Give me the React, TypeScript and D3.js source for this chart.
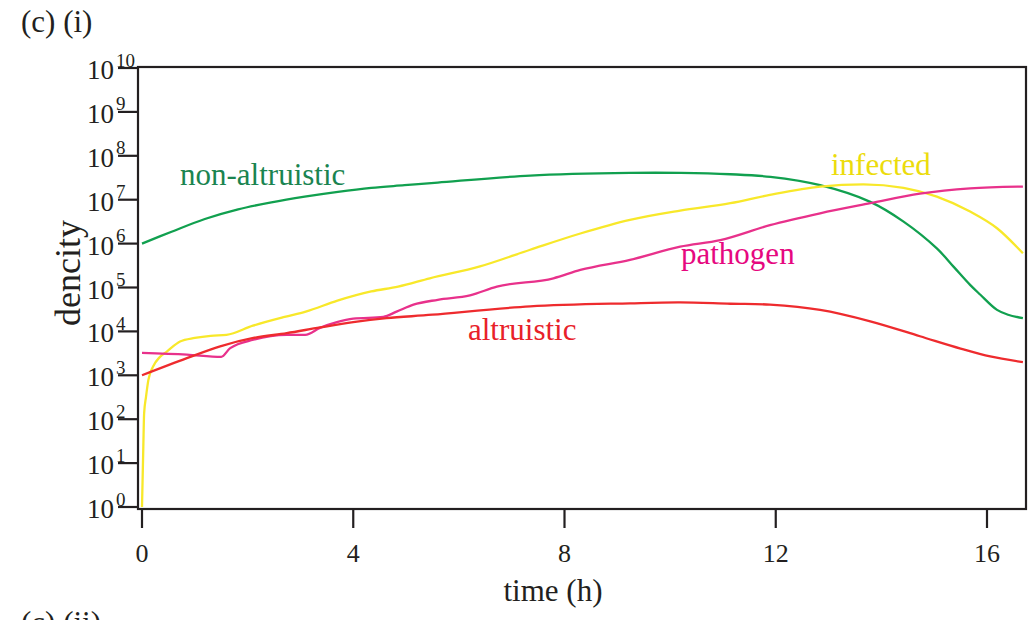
import React, { useEffect, useRef } from 'react';
import * as d3 from 'd3';

// time (h) and log10(density)
const nonAltruistic: [number, number][] = [
  [0, 6.0], [0.56, 6.27], [1.19, 6.56], [1.82, 6.78], [2.45, 6.94], [3.08, 7.07],
  [3.71, 7.18], [4.34, 7.27], [4.97, 7.33], [5.6, 7.39], [7.35, 7.55], [9.24, 7.61],
  [10.2, 7.61], [11.14, 7.58], [11.9, 7.52], [12.84, 7.33], [13.79, 6.95], [14.42, 6.5],
  [15.05, 5.89], [15.37, 5.47], [15.68, 5.06], [15.87, 4.84], [16.19, 4.49],
  [16.4, 4.38], [16.68, 4.3],
];

const infected: [number, number][] = [
  [0, 0], [0.025, 1.37], [0.04, 2.13], [0.076, 2.51], [0.12, 2.89], [0.21, 3.2],
  [0.34, 3.42], [0.47, 3.54], [0.72, 3.77], [1.0, 3.85], [1.3, 3.9], [1.6, 3.92],
  [2.1, 4.13], [2.7, 4.33], [3.1, 4.45], [3.7, 4.7], [4.34, 4.91], [4.85, 5.02],
  [5.45, 5.21], [6.4, 5.48], [7.35, 5.86], [8.3, 6.23], [9.24, 6.54], [10.19, 6.75],
  [11.14, 6.92], [11.89, 7.11], [12.84, 7.3], [13.66, 7.35], [14.42, 7.27],
  [15.05, 7.07], [15.68, 6.73], [16.19, 6.35], [16.68, 5.78],
];

const pathogen: [number, number][] = [
  [0, 3.51], [0.85, 3.47], [1.5, 3.42], [1.67, 3.62], [2.11, 3.81], [2.74, 3.92],
  [3.09, 3.92], [3.37, 4.08], [3.69, 4.21], [4.0, 4.29], [4.57, 4.33], [4.82, 4.45],
  [5.14, 4.61], [5.6, 4.72], [6.21, 4.82], [6.72, 5.02], [7.79, 5.21], [8.3, 5.4],
  [9.24, 5.63], [10.19, 5.93], [10.95, 6.08], [11.89, 6.42], [12.84, 6.69],
  [13.79, 6.92], [14.73, 7.14], [15.68, 7.26], [16.68, 7.3],
];

const altruistic: [number, number][] = [
  [0, 3.0], [0.85, 3.39], [1.48, 3.66], [2.11, 3.85], [2.74, 3.96], [3.37, 4.09],
  [4.0, 4.21], [4.63, 4.3], [5.5, 4.38], [7.35, 4.57], [9.24, 4.64], [10.19, 4.66],
  [11.14, 4.63], [11.89, 4.61], [12.84, 4.49], [13.79, 4.23], [14.73, 3.89],
  [15.5, 3.61], [16.06, 3.43], [16.68, 3.3],
];

const xTicks = [0, 4, 8, 12, 16];
const yExponents = [0, 1, 2, 3, 4, 5, 6, 7, 8, 9, 10];

const series = [
  { name: 'non-altruistic', data: nonAltruistic, color: '#11a04f', labelColor: '#1a8450', lx: 180, ly: 185, smooth: true },
  { name: 'infected', data: infected, color: '#f8e82a', labelColor: '#ecdc0c', lx: 831, ly: 175, smooth: false },
  { name: 'pathogen', data: pathogen, color: '#e8318b', labelColor: '#e6087f', lx: 681, ly: 264, smooth: false },
  { name: 'altruistic', data: altruistic, color: '#ee2b2e', labelColor: '#e82129', lx: 468, ly: 340, smooth: true },
];

const FONT = '"Liberation Serif", "Times New Roman", serif';
const INK = '#231f20';

export default function App() {
  const svgRef = useRef<SVGSVGElement>(null);

  useEffect(() => {
    const svg = d3.select(svgRef.current);
    svg.selectAll('*').remove();

    const left = 138, right = 1026, top = 67, bottom = 509;

    const x = d3.scaleLinear().domain([0, 16]).range([142, 987]);
    const y = d3.scaleLog().domain([1, 1e10]).range([507, 68]);

    // curves
    series.forEach(s => {
      const line = d3.line<[number, number]>()
        .x(d => x(d[0]))
        .y(d => y(Math.pow(10, d[1])))
        .curve(s.smooth ? d3.curveCatmullRom.alpha(0.5) : d3.curveMonotoneX);

      svg.append('path')
        .datum(s.data)
        .attr('d', line)
        .attr('fill', 'none')
        .attr('stroke', s.color)
        .attr('stroke-width', 2.3);
    });

    // frame
    svg.append('rect')
      .attr('x', left).attr('y', top)
      .attr('width', right - left).attr('height', bottom - top)
      .attr('fill', 'none')
      .attr('stroke', INK)
      .attr('stroke-width', 2.2);

    // y ticks
    yExponents.forEach(e => {
      const ty = y(Math.pow(10, e));
      svg.append('line')
        .attr('x1', 118).attr('x2', left)
        .attr('y1', ty).attr('y2', ty)
        .attr('stroke', INK).attr('stroke-width', 2.2);
      svg.append('text')
        .attr('x', 114).attr('y', ty + 11)
        .attr('text-anchor', 'end')
        .style('font-family', FONT).style('font-size', '27px').style('fill', INK)
        .text('10');
      svg.append('text')
        .attr('x', 116).attr('y', ty - 1.5)
        .style('font-family', FONT).style('font-size', '19px').style('fill', INK)
        .text(String(e));
    });

    // x ticks
    xTicks.forEach(t => {
      svg.append('line')
        .attr('x1', x(t)).attr('x2', x(t))
        .attr('y1', bottom).attr('y2', 528)
        .attr('stroke', INK).attr('stroke-width', 2.2);
      svg.append('text')
        .attr('x', x(t)).attr('y', 562)
        .attr('text-anchor', 'middle')
        .style('font-family', FONT).style('font-size', '26px').style('fill', INK)
        .text(String(t));
    });

    // axis titles
    svg.append('text')
      .attr('x', 553).attr('y', 601)
      .attr('text-anchor', 'middle')
      .style('font-family', FONT).style('font-size', '31px').style('fill', INK)
      .text('time (h)');

    svg.append('text')
      .attr('transform', 'translate(80,273) rotate(-90)')
      .attr('text-anchor', 'middle')
      .style('font-family', FONT).style('font-size', '36px').style('fill', INK)
      .text('dencity');

    // panel labels
    svg.append('text')
      .attr('x', 21).attr('y', 32)
      .style('font-family', FONT).style('font-size', '31px').style('fill', INK)
      .text('(c) (i)');

    // next panel heading, cut by the bottom edge as in the source figure
    svg.append('text')
      .attr('x', 21).attr('y', 633)
      .style('font-family', FONT).style('font-size', '31px').style('fill', INK)
      .text('(c) (ii)');

    // series labels
    series.forEach(s => {
      svg.append('text')
        .attr('x', s.lx).attr('y', s.ly)
        .style('font-family', FONT).style('font-size', '31px').style('fill', s.labelColor)
        .text(s.name);
    });
  }, []);

  return (
    <svg
      ref={svgRef}
      width={1034}
      height={620}
      style={{ position: 'absolute', left: 0, top: 0, background: '#fff' }}
    />
  );
}
